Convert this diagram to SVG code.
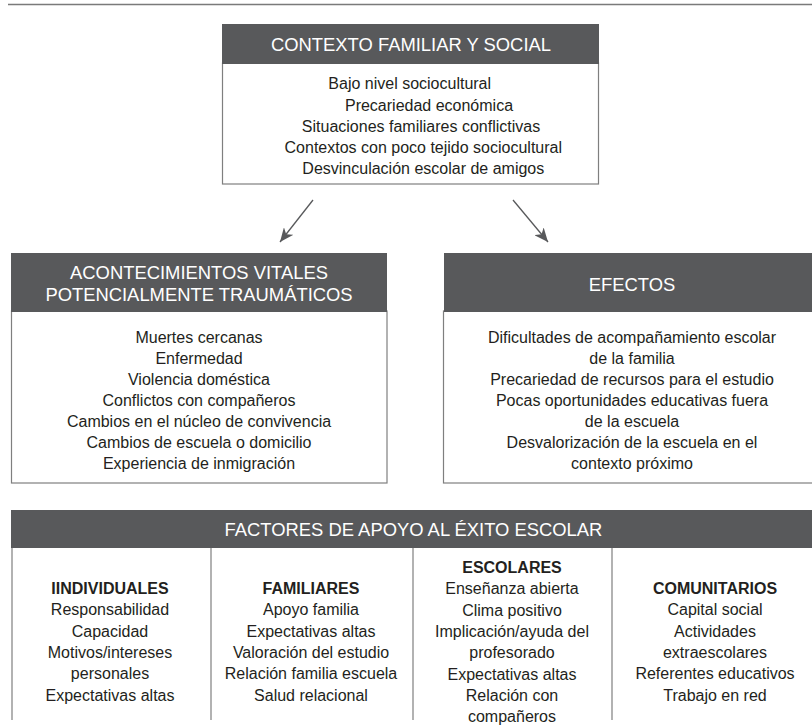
<svg xmlns="http://www.w3.org/2000/svg" width="812" height="728" viewBox="0 0 812 728">
<defs>
<style>
.hdr{fill:#58595b}
.box{fill:#fff;stroke:#7f7f7f;stroke-width:1.2}
.ht{font-family:"Liberation Sans",Arial,sans-serif;font-size:18.4px;fill:#fff;text-anchor:middle}
.t{font-family:"Liberation Sans",Arial,sans-serif;font-size:16px;fill:#231f20;text-anchor:middle}
.b{font-weight:bold}
.conn{stroke:#58595b;stroke-width:1.3;fill:none}
.div{stroke:#7f7f7f;stroke-width:1.2}
</style>
<marker id="ah" markerUnits="userSpaceOnUse" markerWidth="16" markerHeight="12" refX="14" refY="6" orient="auto">
<path d="M0,0 L14,6 L0,12 L4,6 z" fill="#58595b"/>
</marker>
</defs>
<rect width="812" height="728" fill="#fff"/>
<line x1="8" y1="4.5" x2="812" y2="4.5" stroke="#7a7a7a" stroke-width="1.5"/>

<g id="contexto">
<rect class="box" x="222.5" y="63" width="376" height="121"/>
<rect class="hdr" x="222" y="24" width="377" height="40"/>
<text class="ht" x="411" y="50.5">CONTEXTO FAMILIAR Y SOCIAL</text>
<text class="t" x="409.7" y="89">Bajo nivel sociocultural</text>
<text class="t" x="429" y="110.5">Precariedad económica</text>
<text class="t" x="421" y="131.5">Situaciones familiares conflictivas</text>
<text class="t" x="423.3" y="152.5">Contextos con poco tejido sociocultural</text>
<text class="t" x="423.3" y="173.5">Desvinculación escolar de amigos</text>
</g>

<g id="connectors">
<line class="conn" x1="313" y1="200" x2="280" y2="242" marker-end="url(#ah)"/>
<line class="conn" x1="513" y1="200" x2="548" y2="242" marker-end="url(#ah)"/>
</g>

<g id="acontecimientos">
<rect class="box" x="11.5" y="311" width="375.5" height="172"/>
<rect class="hdr" x="11" y="253" width="376" height="59"/>
<text class="ht" x="199" y="278.5">ACONTECIMIENTOS VITALES</text>
<text class="ht" x="199" y="300.5">POTENCIALMENTE TRAUMÁTICOS</text>
<text class="t" x="199" y="343">Muertes cercanas</text>
<text class="t" x="199" y="364">Enfermedad</text>
<text class="t" x="199" y="385">Violencia doméstica</text>
<text class="t" x="199" y="406">Conflictos con compañeros</text>
<text class="t" x="199" y="427">Cambios en el núcleo de convivencia</text>
<text class="t" x="199" y="448">Cambios de escuela o domicilio</text>
<text class="t" x="199" y="469">Experiencia de inmigración</text>
</g>

<g id="efectos">
<rect class="box" x="443.5" y="311" width="380" height="172"/>
<rect class="hdr" x="444" y="253" width="380" height="59"/>
<text class="ht" x="632" y="291">EFECTOS</text>
<text class="t" x="632" y="343">Dificultades de acompañamiento escolar</text>
<text class="t" x="632" y="364">de la familia</text>
<text class="t" x="632" y="385">Precariedad de recursos para el estudio</text>
<text class="t" x="632" y="406">Pocas oportunidades educativas fuera</text>
<text class="t" x="632" y="427">de la escuela</text>
<text class="t" x="632" y="448">Desvalorización de la escuela en el</text>
<text class="t" x="632" y="469">contexto próximo</text>
</g>

<g id="factores">
<rect class="hdr" x="11" y="510" width="810" height="38"/>
<text class="ht" x="413.5" y="535.5">FACTORES DE APOYO AL ÉXITO ESCOLAR</text>
<line class="div" x1="12" y1="548" x2="12" y2="720"/>
<line class="div" x1="211" y1="548" x2="211" y2="720"/>
<line class="div" x1="413" y1="548" x2="413" y2="720"/>
<line class="div" x1="612" y1="548" x2="612" y2="720"/>
</g>

<g id="individuales">
<text class="t b" x="110" y="594">IINDIVIDUALES</text>
<text class="t" x="110" y="615.3">Responsabilidad</text>
<text class="t" x="110" y="636.6">Capacidad</text>
<text class="t" x="110" y="657.9">Motivos/intereses</text>
<text class="t" x="110" y="679.2">personales</text>
<text class="t" x="110" y="700.5">Expectativas altas</text>
</g>

<g id="familiares">
<text class="t b" x="311" y="594">FAMILIARES</text>
<text class="t" x="311" y="615.3">Apoyo familia</text>
<text class="t" x="311" y="636.6">Expectativas altas</text>
<text class="t" x="311" y="657.9">Valoración del estudio</text>
<text class="t" x="311" y="679.2">Relación familia escuela</text>
<text class="t" x="311" y="700.5">Salud relacional</text>
</g>

<g id="escolares">
<text class="t b" x="512" y="573">ESCOLARES</text>
<text class="t" x="512" y="594.3">Enseñanza abierta</text>
<text class="t" x="512" y="615.6">Clima positivo</text>
<text class="t" x="512" y="636.9">Implicación/ayuda del</text>
<text class="t" x="512" y="658.2">profesorado</text>
<text class="t" x="512" y="679.5">Expectativas altas</text>
<text class="t" x="512" y="700.8">Relación con</text>
<text class="t" x="512" y="722.1">compañeros</text>
</g>

<g id="comunitarios">
<text class="t b" x="715" y="594">COMUNITARIOS</text>
<text class="t" x="715" y="615.3">Capital social</text>
<text class="t" x="715" y="636.6">Actividades</text>
<text class="t" x="715" y="657.9">extraescolares</text>
<text class="t" x="715" y="679.2">Referentes educativos</text>
<text class="t" x="715" y="700.5">Trabajo en red</text>
</g>
</svg>
